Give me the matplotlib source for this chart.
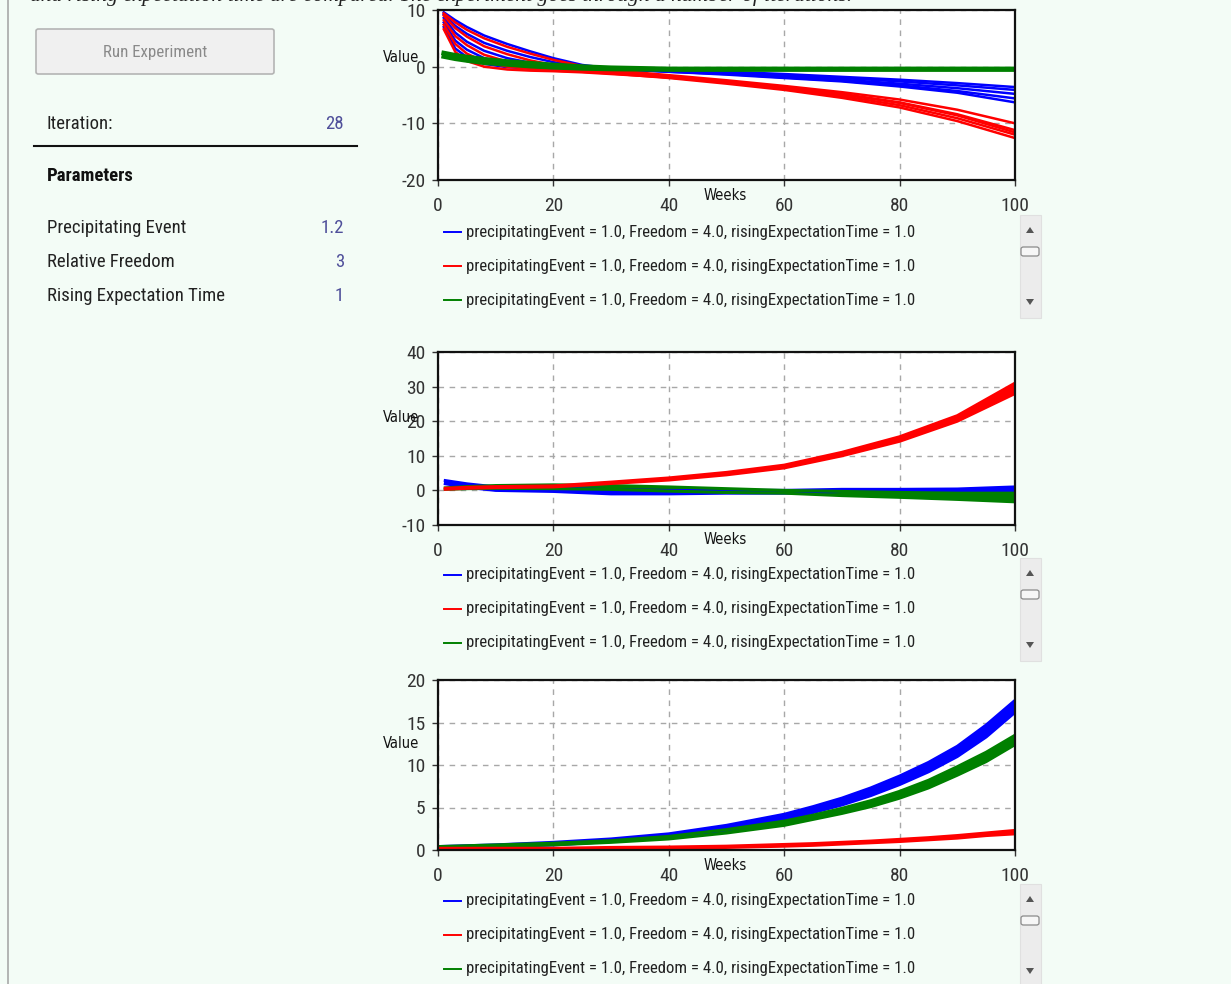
import matplotlib
matplotlib.use("Agg")
import matplotlib.pyplot as plt
from matplotlib.patches import FancyBboxPatch, Rectangle, Polygon
from matplotlib.lines import Line2D

# ─── CONFIG ───────────────────────────────────────────────
W, H      = 1231, 984
BG        = "#f3fcf6"
NARROW    = ["Roboto Condensed", "DejaVu Sans"]
BLUE, RED, GREEN = "#0000ff", "#ff0000", "#008000"
plt.rcParams["axes.unicode_minus"] = False
# ──────────────────────────────────────────────────────────

# ─── DATA ─────────────────────────────────────────────────
intro_text = ("and rising expectation time are compared. The experiment "
              "goes through a number of iterations.")
iteration = "28"
param_names  = ["Precipitating Event", "Relative Freedom", "Rising Expectation Time"]
param_values = ["1.2", "3", "1"]
legend_labels = ["precipitatingEvent = 1.0, Freedom = 4.0, risingExpectationTime = 1.0"] * 3

# chart 1: individual iterations
weeks_1 = [1, 3, 5, 8, 12, 16, 20, 25, 30, 40, 50, 60, 70, 80, 90, 100]
blue_runs_1 = [
    [9.6, 8.2, 7.0, 5.5, 4.0, 2.7, 1.5, 0.3, -0.3, -0.9, -1.4, -2.0, -2.6, -3.5, -4.6, -6.3],
    [9.2, 7.2, 5.8, 4.2, 2.8, 1.7, 0.8, 0.0, -0.4, -0.9, -1.3, -1.9, -2.5, -3.3, -4.3, -5.6],
    [8.6, 6.0, 4.4, 2.8, 1.5, 0.7, 0.2, -0.2, -0.5, -0.8, -1.2, -1.7, -2.3, -3.0, -3.8, -4.8],
    [7.8, 4.6, 3.0, 1.5, 0.5, 0.0, -0.2, -0.4, -0.5, -0.7, -1.0, -1.5, -2.0, -2.6, -3.3, -4.1],
    [7.0, 3.2, 1.7, 0.5, -0.1, -0.3, -0.4, -0.4, -0.5, -0.6, -0.9, -1.3, -1.8, -2.3, -2.9, -3.6],
]
red_runs_1 = [
    [9.4, 7.8, 6.5, 5.0, 3.5, 2.3, 1.2, 0.1, -0.6, -1.5, -2.4, -3.4, -4.5, -5.8, -7.6, -10.0],
    [9.0, 6.8, 5.3, 3.6, 2.2, 1.1, 0.3, -0.4, -0.9, -1.7, -2.6, -3.6, -4.8, -6.3, -8.4, -11.2],
    [8.2, 5.4, 3.8, 2.1, 0.9, 0.2, -0.3, -0.7, -1.1, -1.9, -2.8, -3.9, -5.2, -6.8, -9.1, -12.0],
    [7.4, 4.0, 2.3, 0.9, 0.0, -0.4, -0.7, -0.9, -1.2, -2.0, -3.0, -4.1, -5.5, -7.2, -9.6, -12.6],
    [6.6, 2.6, 1.0, 0.0, -0.5, -0.7, -0.8, -1.0, -1.3, -1.9, -2.7, -3.7, -4.9, -6.4, -8.6, -11.6],
]
green_runs_1 = [
    [2.4, 2.0, 1.7, 1.3, 0.9, 0.6, 0.3, 0.0, -0.2, -0.4, -0.4, -0.4, -0.4, -0.4, -0.4, -0.4],
    [1.8, 1.4, 1.1, 0.7, 0.4, 0.1, -0.1, -0.3, -0.4, -0.5, -0.5, -0.5, -0.5, -0.5, -0.5, -0.5],
]

# chart 2: bands (low / high over all iterations)
weeks_2 = [1, 5, 10, 20, 30, 40, 50, 60, 70, 80, 90, 100]
red_lo_2   = [0.3, 0.6, 0.8, 1.0, 2.0, 3.0, 4.5, 6.5, 10.0, 14.2, 20.0, 28.0]
red_hi_2   = [0.6, 0.9, 1.1, 1.3, 2.4, 3.6, 5.2, 7.3, 11.0, 15.5, 21.6, 31.0]
blue_lo_2  = [2.0, 0.9, 0.0, -0.3, -1.0, -1.0, -0.8, -0.8, -0.3, -0.3, -0.3, -0.2]
blue_hi_2  = [2.9, 1.9, 1.0, 0.7, 0.2, 0.0, 0.0, 0.0, 0.3, 0.3, 0.4, 1.0]
green_lo_2 = [0.3, 0.5, 0.6, 0.5, 0.3, -0.2, -0.6, -0.8, -1.5, -2.0, -2.6, -3.3]
green_hi_2 = [0.7, 1.1, 1.4, 1.6, 1.4, 1.0, 0.5, 0.0, -0.3, -0.6, -0.8, -0.8]

# chart 3: bands
weeks_3 = [0, 10, 20, 30, 40, 50, 60, 65, 70, 75, 80, 85, 90, 95, 100]
blue_lo_3  = [0.2, 0.4, 0.6, 1.0, 1.5, 2.4, 3.6, 4.4, 5.3, 6.4, 7.7, 9.2, 11.0, 13.3, 16.2]
blue_hi_3  = [0.4, 0.6, 0.9, 1.3, 1.9, 2.9, 4.2, 5.1, 6.1, 7.3, 8.7, 10.3, 12.2, 14.7, 17.6]
green_lo_3 = [0.2, 0.4, 0.6, 0.9, 1.3, 2.0, 2.9, 3.6, 4.3, 5.1, 6.1, 7.3, 8.8, 10.4, 12.4]
green_hi_3 = [0.4, 0.6, 0.8, 1.1, 1.6, 2.4, 3.4, 4.1, 4.9, 5.8, 6.9, 8.2, 9.8, 11.5, 13.5]
red_lo_3   = [0.05, 0.05, 0.05, 0.1, 0.15, 0.3, 0.45, 0.55, 0.7, 0.85, 1.0, 1.2, 1.4, 1.7, 1.9]
red_hi_3   = [0.2, 0.2, 0.2, 0.3, 0.35, 0.45, 0.65, 0.75, 0.9, 1.05, 1.25, 1.45, 1.7, 2.0, 2.3]
# ──────────────────────────────────────────────────────────


def fx(x):
    return x / W


def fy(y):
    return 1 - y / H


def rect(x0, y0, x1, y1):
    return [fx(x0), fy(y1), (x1 - x0) / W, (y1 - y0) / H]


def ntext(x, y, s, size=13.5, **kw):
    # narrow UI text
    return fig.text(fx(x), fy(y), s, family=NARROW, fontstretch="condensed",
                    fontsize=size, **kw)


fig = plt.figure(figsize=(W / 100, H / 100), dpi=100, facecolor=BG)

# page border + clipped intro line
fig.add_artist(Line2D([fx(8), fx(8)], [0, 1], color="#a8a8a8", lw=1.2))
fig.text(fx(30), fy(0.5), intro_text, family="Liberation Serif", style="italic",
         fontsize=15.5, color="#222222", va="baseline", ha="left")

# ─── LEFT PANEL ───────────────────────────────────────────
fig.add_artist(FancyBboxPatch((fx(36), fy(74)), (274 - 36) / W, (74 - 29) / H,
                              boxstyle="round,pad=0,rounding_size=0.002",
                              transform=fig.transFigure, fc="#f0f0f0", ec="#b4b4b4", lw=1.2))
ntext(155, 52, "Run Experiment", size=12.2, color="#8a8a8a", ha="center", va="center")

ntext(47, 124, "Iteration:", color="#222222", va="center")
ntext(344, 124, iteration, color="#4f4f9a", va="center", ha="right")
fig.add_artist(Line2D([fx(34), fx(357)], [fy(146), fy(146)], color="#111111", lw=1.5))
ntext(47, 176, "Parameters", weight="bold", color="#111111", va="center")
for i, (name, val) in enumerate(zip(param_names, param_values)):
    y = 228 + 34 * i
    ntext(47, y, name, color="#222222", va="center")
    ntext(344, y, val, color="#4f4f9a", va="center", ha="right")


# ─── CHARTS ───────────────────────────────────────────────
def style_axes(ax, ylim, yticks):
    ax.set_facecolor("white")
    ax.set_xlim(0, 100)
    ax.set_ylim(*ylim)
    ax.set_xticks([0, 20, 40, 60, 80, 100])
    ax.set_yticks(yticks)
    for s in ax.spines.values():
        s.set_linewidth(1.6)
        s.set_color("#111111")
    ax.grid(True, color="#a8a8a8", ls=(0, (4, 4)), lw=1.0)
    ax.tick_params(length=4, width=1, color="#333333", labelcolor="#333333", labelsize=14)
    ax.tick_params(axis="x", pad=8)
    ax.tick_params(axis="y", pad=5)
    for lab in ax.get_xticklabels() + ax.get_yticklabels():
        lab.set_family(NARROW)
        lab.set_fontstretch("condensed")
    ax.set_axisbelow(True)


def band(ax, x, lo, hi, color):
    ax.fill_between(x, lo, hi, color=color, lw=0)
    ax.plot(x, lo, color=color, lw=2.2, solid_capstyle="butt")
    ax.plot(x, hi, color=color, lw=2.2, solid_capstyle="butt")


def chart_extras(value_y, bottom, legend_y, sb_top):
    fig.text(fx(383), fy(value_y), "Value", fontsize=10.5, fontstretch="condensed",
             color="#111111", va="center", ha="left")
    fig.text(fx(725), fy(bottom + 15), "Weeks", fontsize=10.5, fontstretch="condensed",
             color="#111111", va="center", ha="center")
    for k, (lab, col) in enumerate(zip(legend_labels, [BLUE, RED, GREEN])):
        y = legend_y + 34 * k
        fig.add_artist(Line2D([fx(444), fx(461)], [fy(y), fy(y)], color=col, lw=1.4))
        ntext(466, y, lab, size=12.1, color="#222222", va="center", ha="left")
    # scrollbar
    fig.add_artist(Rectangle((fx(1020), fy(sb_top + 103)), 21 / W, 103 / H,
                             transform=fig.transFigure, fc="#ececec", ec="#e0e0e0", lw=0.8))
    up = sb_top + 15
    dn = sb_top + 87
    fig.add_artist(Polygon([[fx(1026), fy(up + 3)], [fx(1034), fy(up + 3)], [fx(1030), fy(up - 3)]],
                           closed=True, transform=fig.transFigure, fc="#555555", ec="none"))
    fig.add_artist(Polygon([[fx(1026), fy(dn - 3)], [fx(1034), fy(dn - 3)], [fx(1030), fy(dn + 3)]],
                           closed=True, transform=fig.transFigure, fc="#555555", ec="none"))
    fig.add_artist(FancyBboxPatch((fx(1021), fy(sb_top + 41)), 18 / W, 9 / H,
                                  boxstyle="round,pad=0,rounding_size=0.002",
                                  transform=fig.transFigure, fc="#f6f6f6", ec="#8a8a8a", lw=0.9))


# chart 1
ax1 = fig.add_axes(rect(438, 10, 1015, 180))
for run in blue_runs_1:
    ax1.plot(weeks_1, run, color=BLUE, lw=1.8)
for run in red_runs_1:
    ax1.plot(weeks_1, run, color=RED, lw=1.8)
for run in green_runs_1:
    ax1.plot(weeks_1, run, color=GREEN, lw=3.4)
style_axes(ax1, (-20, 10), [-20, -10, 0, 10])
chart_extras(58, 180, 232, 215)

# chart 2
ax2 = fig.add_axes(rect(438, 352, 1015, 525))
band(ax2, weeks_2, blue_lo_2, blue_hi_2, BLUE)
band(ax2, weeks_2, green_lo_2, green_hi_2, GREEN)
band(ax2, weeks_2, red_lo_2, red_hi_2, RED)
style_axes(ax2, (-10, 40), [-10, 0, 10, 20, 30, 40])
chart_extras(418, 525, 575, 558)

# chart 3
ax3 = fig.add_axes(rect(438, 680, 1015, 850))
band(ax3, weeks_3, blue_lo_3, blue_hi_3, BLUE)
band(ax3, weeks_3, green_lo_3, green_hi_3, GREEN)
band(ax3, weeks_3, red_lo_3, red_hi_3, RED)
style_axes(ax3, (0, 20), [0, 5, 10, 15, 20])
chart_extras(744, 850, 901, 884)

plt.savefig("out.png", dpi=100, facecolor=BG)
